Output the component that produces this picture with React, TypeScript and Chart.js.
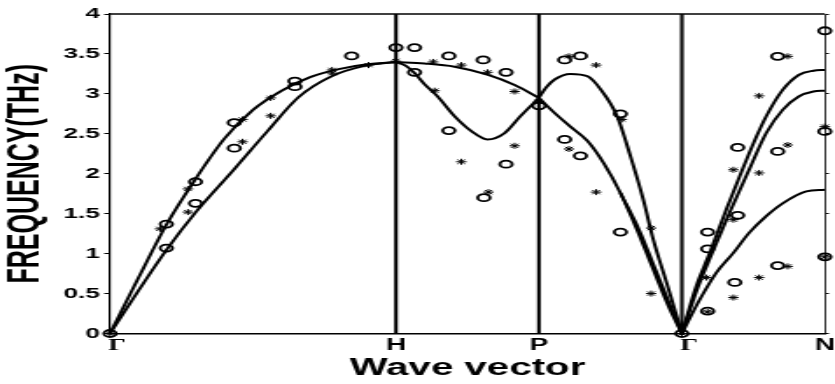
import React, { useEffect, useRef } from 'react';
import { Chart, registerables } from 'chart.js';

Chart.register(...registerables);

// ---- axes / labels ----
const X_TICK_POS = [0, 2, 3, 4, 5];
const X_TICK_LABELS = ['Γ', 'H', 'P', 'Γ', 'N'];
const Y_TICKS = [0, 0.5, 1, 1.5, 2, 2.5, 3, 3.5, 4];
const Y_TICK_LABELS = ['0', '0.5', '1', '1.5', '2', '2.5', '3', '3.5', '4'];
const SYM_LINES = [2, 3, 4];

// ---- calculated dispersion curves ----
// Γ -> H
const GH_UPPER_X = [0, 0.2, 0.4, 0.6, 0.8, 1.0, 1.2, 1.4, 1.6, 1.8, 2.0];
const GH_UPPER_Y = [0, 0.7, 1.38, 1.94, 2.44, 2.8, 3.04, 3.21, 3.31, 3.37, 3.4];
const GH_LOWER_X = [0, 0.2, 0.4, 0.6, 0.87, 1.1, 1.32, 1.55, 1.78, 2.0];
const GH_LOWER_Y = [0, 0.54, 1.06, 1.52, 2.06, 2.53, 2.96, 3.22, 3.35, 3.4];
// H -> P
const HP_A_X = [2.0, 2.2, 2.41, 2.64, 2.83, 3.0];
const HP_A_Y = [3.4, 3.38, 3.34, 3.24, 3.11, 2.95];
const HP_B_X = [2.0, 2.07, 2.13, 2.2, 2.29, 2.41, 2.53, 2.64, 2.76, 2.87, 3.0];
const HP_B_Y = [3.4, 3.35, 3.26, 3.12, 2.97, 2.72, 2.53, 2.43, 2.51, 2.72, 2.95];
// P -> Γ
const PG_C_X = [3.0, 3.05, 3.11, 3.22, 3.34, 3.43, 3.547, 3.64, 3.73, 3.8, 3.894, 4.0];
const PG_C_Y = [2.95, 3.08, 3.18, 3.25, 3.22, 3.06, 2.72, 2.22, 1.675, 1.175, 0.63, 0];
const PG_D_X = [3.0, 3.11, 3.22, 3.34, 3.454, 3.57, 3.686, 3.8, 3.917, 4.0];
const PG_D_Y = [2.95, 2.76, 2.59, 2.41, 2.13, 1.76, 1.3, 0.8, 0.3, 0];
const PG_D2_X = [3.57, 3.7, 3.815, 3.93, 4.0];
const PG_D2_Y = [1.76, 1.3, 0.8, 0.3, 0];
// Γ -> N
const GN_E_X = [4.0, 4.1, 4.195, 4.31, 4.4, 4.5, 4.59, 4.705, 4.82, 4.92, 5.0];
const GN_E_Y = [0, 0.59, 1.01, 1.55, 1.95, 2.38, 2.72, 3.05, 3.24, 3.29, 3.3];
const GN_F_X = [4.0, 4.11, 4.21, 4.33, 4.47, 4.59, 4.705, 4.82, 4.92, 5.0];
const GN_F_Y = [0, 0.57, 1.0, 1.5, 2.05, 2.51, 2.8, 2.97, 3.03, 3.04];
const GN_G_X = [4.0, 4.125, 4.24, 4.36, 4.47, 4.59, 4.705, 4.87, 5.0];
const GN_G_Y = [0, 0.425, 0.76, 1.01, 1.26, 1.47, 1.63, 1.78, 1.8];

// ---- experimental points ----
const CIRCLE_X = [
  0, 0.394, 0.394, 0.598, 0.598, 0.869, 0.869, 1.293, 1.293, 1.69, 2.0,
  2.13, 2.13, 2.37, 2.61, 2.77, 2.37, 2.77, 2.615, 3.0,
  3.18, 3.29, 3.18, 3.29, 3.57, 3.57, 4.0,
  4.18, 4.37, 4.67, 5.0, 4.18, 4.18, 4.39, 4.39, 4.67, 5.0, 4.67, 5.0,
];
const CIRCLE_Y = [
  0, 1.37, 1.07, 1.9, 1.63, 2.64, 2.32, 3.16, 3.09, 3.475, 3.58,
  3.58, 3.27, 3.475, 3.425, 3.27, 2.54, 2.12, 1.7, 2.85,
  3.425, 3.475, 2.43, 2.225, 2.75, 1.27, 0,
  0.28, 0.64, 0.85, 0.96, 1.06, 1.27, 1.48, 2.33, 2.28, 2.53, 3.47, 3.79,
];
const STAR_X = [
  0, 0.35, 0.545, 0.545, 0.927, 0.927, 1.124, 1.124, 1.553, 1.553, 1.808, 2.0,
  2.26, 2.457, 2.64, 2.27, 2.83, 2.83, 2.457, 2.647, 3.0,
  3.21, 3.4, 3.58, 3.21, 3.4, 3.785, 3.785, 4.0,
  4.17, 4.36, 4.54, 4.74, 5.0, 4.36, 4.36, 4.54, 4.74, 5.0, 4.54, 4.74, 4.18,
];
const STAR_Y = [
  0, 1.31, 1.81, 1.52, 2.68, 2.4, 2.95, 2.725, 3.3, 3.26, 3.36, 3.41,
  3.4, 3.36, 3.27, 3.04, 3.03, 2.35, 2.15, 1.77, 2.9,
  3.47, 3.36, 2.68, 2.31, 1.77, 1.32, 0.5, 0,
  0.7, 0.45, 0.7, 0.84, 0.96, 1.425, 2.05, 2.01, 2.36, 2.59, 2.975, 3.47, 0.27,
];

const CURVES: [number[], number[]][] = [
  [GH_UPPER_X, GH_UPPER_Y],
  [GH_LOWER_X, GH_LOWER_Y],
  [HP_A_X, HP_A_Y],
  [HP_B_X, HP_B_Y],
  [PG_C_X, PG_C_Y],
  [PG_D_X, PG_D_Y],
  [PG_D2_X, PG_D2_Y],
  [GN_E_X, GN_E_Y],
  [GN_F_X, GN_F_Y],
  [GN_G_X, GN_G_Y],
];

const zip = (xs: number[], ys: number[]) => xs.map((x, i) => ({ x, y: ys[i] }));

// canvas drawn narrow and displayed stretched horizontally (as in the reference)
const CW = 477;
const CH = 384;
const SX = 835 / CW;

const SANS = "'Liberation Sans', Arial, Helvetica, sans-serif";
const SERIF = "'Liberation Serif', 'Times New Roman', serif";

const framePlugin = {
  id: 'frameTop',
  afterDraw(chart: any) {
    const { ctx, chartArea } = chart;
    ctx.save();
    ctx.strokeStyle = '#000';
    ctx.lineWidth = 1.3;
    ctx.beginPath();
    ctx.moveTo(chartArea.left, chartArea.top);
    ctx.lineTo(chartArea.right, chartArea.top);
    ctx.stroke();
    ctx.restore();
  },
};

export default function App() {
  const ref = useRef<HTMLCanvasElement | null>(null);

  useEffect(() => {
    if (!ref.current) return;
    const left = 110 / SX;
    const right = 829.3 / SX;
    const datasets: any[] = [];

    CURVES.forEach(([xs, ys]) => {
      datasets.push({
        type: 'line',
        data: zip(xs, ys),
        borderColor: '#000',
        borderWidth: 2,
        pointRadius: 0,
        fill: false,
        cubicInterpolationMode: 'monotone',
        clip: false,
      });
    });

    SYM_LINES.forEach((sx) => {
      datasets.push({
        type: 'line',
        data: [
          { x: sx, y: 0 },
          { x: sx, y: 4 },
        ],
        borderColor: '#000',
        borderWidth: 2.1,
        pointRadius: 0,
        fill: false,
      });
    });

    datasets.push({
      type: 'scatter',
      data: zip(CIRCLE_X, CIRCLE_Y),
      showLine: false,
      pointStyle: 'circle',
      pointRadius: 3.5,
      pointBorderWidth: 1.8,
      pointBorderColor: '#000',
      pointBackgroundColor: 'rgba(0,0,0,0)',
      clip: false,
    });
    datasets.push({
      type: 'scatter',
      data: zip(STAR_X, STAR_Y),
      showLine: false,
      pointStyle: 'star',
      pointRadius: 3,
      pointBorderWidth: 1,
      pointBorderColor: '#000',
      pointBackgroundColor: '#000',
      clip: false,
    });

    const chart = new Chart(ref.current, {
      type: 'scatter',
      data: { datasets },
      plugins: [framePlugin],
      options: {
        animation: false,
        responsive: false,
        devicePixelRatio: 1,
        layout: { padding: { top: 14, left: 0, right: 0, bottom: 0 } },
        plugins: { legend: { display: false }, tooltip: { enabled: false } },
        scales: {
          x: {
            type: 'linear',
            position: 'bottom',
            min: 0,
            max: 5,
            afterBuildTicks: (s: any) => {
              s.ticks = X_TICK_POS.map((v) => ({ value: v }));
            },
            afterFit: (s: any) => {
              s.height = CH - 333.5;
              s.paddingLeft = 0;
              s.paddingRight = 0;
            },
            grid: { display: true, drawOnChartArea: false, drawTicks: false },
            border: { display: true, color: '#000', width: 1.5 },
            ticks: {
              color: '#000',
              padding: 2.7,
              maxRotation: 0,
              autoSkip: false,
              callback: (_v: any, i: number) =>
                X_TICK_LABELS[i] === 'Γ' ? '\u2002' + X_TICK_LABELS[i] : X_TICK_LABELS[i],
              font: (ctx: any) =>
                X_TICK_LABELS[ctx.index] === 'Γ'
                  ? { family: SERIF, size: 16, weight: 'bold' }
                  : { family: SANS, size: 16, weight: 'bold' },
            },
            title: {
              display: true,
              text: 'Wave vector',
              color: '#000',
              font: { family: SANS, size: 23, weight: 'bold' },
              padding: { top: 0, bottom: 1.5 },
            },
          } as any,
          y: {
            type: 'linear',
            position: 'left',
            min: 0,
            max: 4,
            afterBuildTicks: (s: any) => {
              s.ticks = Y_TICKS.map((v) => ({ value: v }));
            },
            afterFit: (s: any) => {
              s.width = left;
            },
            grid: {
              drawOnChartArea: false,
              drawTicks: true,
              tickLength: 3.3,
              color: '#000',
              lineWidth: 1,
            },
            border: { display: true, color: '#000', width: 1.2 },
            ticks: {
              color: '#000',
              padding: 2.5,
              callback: (_v: any, i: number) => Y_TICK_LABELS[i],
              font: { family: SANS, size: 15, weight: 'bold' },
            },
            title: {
              display: true,
              text: 'FREQUENCY(THz)',
              color: '#000',
              font: { family: SANS, size: 25, weight: 'bold' },
              padding: 0,
            },
          } as any,
          y2: {
            type: 'linear',
            position: 'right',
            min: 0,
            max: 4,
            afterBuildTicks: (s: any) => {
              s.ticks = Y_TICKS.map((v) => ({ value: v }));
            },
            afterFit: (s: any) => {
              s.width = CW - right;
            },
            grid: {
              drawOnChartArea: false,
              drawTicks: true,
              tickLength: 2.3,
              color: '#000',
              lineWidth: 1,
            },
            border: { display: true, color: '#000', width: 0.8 },
            ticks: { display: false },
          } as any,
        },
      },
    });
    return () => chart.destroy();
  }, []);

  return (
    <div
      style={{
        position: 'fixed',
        left: 0,
        top: 0,
        width: 835,
        height: 384,
        background: '#fff',
        overflow: 'hidden',
      }}
    >
      <canvas
        ref={ref}
        width={CW}
        height={CH}
        style={{ width: '835px', height: '384px', display: 'block' }}
      />
    </div>
  );
}
